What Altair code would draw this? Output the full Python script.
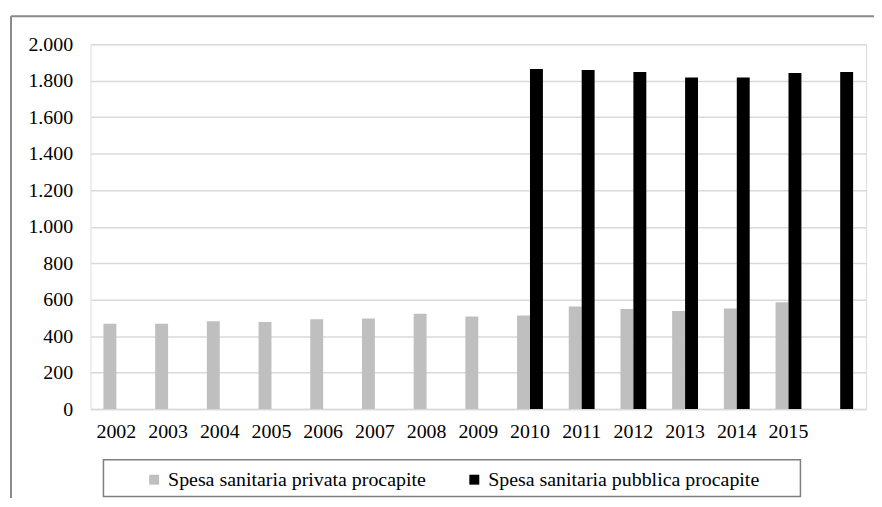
import altair as alt
import pandas as pd

years = ["2002", "2003", "2004", "2005", "2006", "2007", "2008", "2009",
         "2010", "2011", "2012", "2013", "2014", "2015", "2016"]
privata = [468, 468, 482, 477, 492, 497, 523, 508, 513, 563, 548, 537, 552, 586, None]
pubblica = [None, None, None, None, None, None, None, None,
            1864, 1858, 1848, 1817, 1817, 1842, 1848]
series = ["Spesa sanitaria privata procapite", "Spesa sanitaria pubblica procapite"]
colors = ["#bfbfbf", "#000000"]
y_ticks = [0, 200, 400, 600, 800, 1000, 1200, 1400, 1600, 1800, 2000]

rows = []
for i, yr in enumerate(years):
    for s, vals in zip(series, [privata, pubblica]):
        if vals[i] is not None:
            rows.append({"anno": yr, "serie": s, "valore": vals[i]})
df = pd.DataFrame(rows)

FONT = "'Liberation Serif', 'Times New Roman', 'DejaVu Serif', serif"

bars = alt.Chart(df).mark_bar().encode(
    x=alt.X("anno:N", sort=years,
            scale=alt.Scale(domain=years, paddingInner=0.5, paddingOuter=0.25),
            axis=alt.Axis(title=None, labelAngle=0, ticks=False, labelFontSize=20,
                          labelFont=FONT, labelColor="#000000", labelPadding=13,
                          domainColor="#d9d9d9", domainWidth=1.5,
                          labelExpr="datum.label == '2016' ? '' : datum.label")),
    xOffset=alt.XOffset("serie:N", sort=series,
                        scale=alt.Scale(domain=series, paddingInner=0, paddingOuter=0)),
    y=alt.Y("valore:Q", scale=alt.Scale(domain=[0, 2000], nice=False),
            axis=alt.Axis(title=None, values=y_ticks, ticks=False, domain=False,
                          gridColor="#d9d9d9", gridWidth=1.5, labelFontSize=20,
                          labelFont=FONT, labelColor="#000000", labelPadding=18,
                          labelExpr="replace(format(datum.value, ','), ',', '.')")),
    color=alt.Color("serie:N", sort=series,
                    scale=alt.Scale(domain=series, range=colors),
                    legend=alt.Legend(title=None, orient="none", direction="horizontal",
                                      legendX=54, legendY=428, padding=0,
                                      symbolType="square", symbolSize=100,
                                      symbolStrokeWidth=0, labelFontSize=20,
                                      labelFont=FONT, labelColor="#000000",
                                      labelOffset=4, columnPadding=38,
                                      labelLimit=400)),
)

one = alt.Data(values=[{"k": 1}])

legend_box = alt.Chart(one).mark_rect(fill="#ffffff", stroke="#7f7f7f", strokeWidth=1.5).encode(
    x=alt.value(13), x2=alt.value(714), y=alt.value(418), y2=alt.value(455)
)

frame_top = alt.Chart(one).mark_rule(color="#8a8a8a", strokeWidth=2).encode(
    x=alt.value(-80), x2=alt.value(788), y=alt.value(-28)
)
frame_left = alt.Chart(one).mark_rule(color="#8a8a8a", strokeWidth=2).encode(
    x=alt.value(-80), y=alt.value(-28), y2=alt.value(460)
)

chart = alt.layer(frame_top, frame_left, legend_box, bars).properties(
    width=780, height=367,
    padding={"left": 83, "top": 35, "right": 8, "bottom": 88},
    autosize=alt.AutoSizeParams(type="none"),
    background="#ffffff",
).configure_view(stroke=None).configure(font=FONT)

chart.save("out.html", embed_options={"renderer": "svg", "actions": False})
